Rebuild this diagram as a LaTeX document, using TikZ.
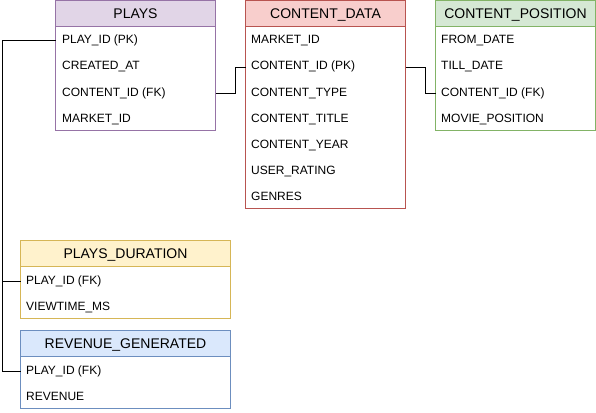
\documentclass[tikz,border=0pt]{standalone}
\usepackage{fontspec}
\setmainfont{Liberation Sans}
\usetikzlibrary{positioning}
\definecolor{playsfill}{HTML}{E1D5E7}\definecolor{playsline}{HTML}{9673A6}
\definecolor{datafill}{HTML}{F8CECC}\definecolor{dataline}{HTML}{B85450}
\definecolor{posfill}{HTML}{D5E8D4}\definecolor{posline}{HTML}{82B366}
\definecolor{durfill}{HTML}{FFF2CC}\definecolor{durline}{HTML}{D6B656}
\definecolor{revfill}{HTML}{DAE8FC}\definecolor{revline}{HTML}{6C8EBF}
\tikzset{
  tblhead/.style={anchor=north west, minimum height=26pt, inner sep=0pt, outer sep=0pt,
    text height=13pt, text depth=3pt, line width=1pt, font=\fontsize{14}{16}\selectfont},
  tblbody/.style={inner sep=0pt, outer sep=0pt, line width=1pt, fill=white},
  field/.style={anchor=west, inner sep=0pt, text height=9pt, text depth=3pt,
    font=\fontsize{12}{14}\selectfont},
  link/.style={draw=black, line width=1pt}
}

\begin{document}
\begin{tikzpicture}[x=1pt, y=1pt]
    \useasboundingbox (0,0) rectangle (596,-412);

    % tables
    \node (plays) [tblhead, draw=playsline, fill=playsfill, minimum width=160pt] at (55.5,-0.5) {PLAYS};
    \node (playsbody) [tblbody, draw=playsline, below=0pt of plays, minimum width=160pt, minimum height=104pt] {};
    \foreach \f [count=\i] in {PLAY\_ID (PK), CREATED\_AT, CONTENT\_ID (FK), MARKET\_ID}
        \node (plays-\i) [field] at ([xshift=6.5pt, yshift={(0.5-\i)*26pt-1.5pt}]playsbody.north west) {\f};

    \node (data) [tblhead, draw=dataline, fill=datafill, minimum width=160pt] at (245.5,-0.5) {CONTENT\_DATA};
    \node (databody) [tblbody, draw=dataline, below=0pt of data, minimum width=160pt, minimum height=182pt] {};
    \foreach \f [count=\i] in {MARKET\_ID, CONTENT\_ID (PK), CONTENT\_TYPE, CONTENT\_TITLE, CONTENT\_YEAR, USER\_RATING, GENRES}
        \node (data-\i) [field] at ([xshift=5.5pt, yshift={(0.5-\i)*26pt-1.5pt}]databody.north west) {\f};

    \node (pos) [tblhead, draw=posline, fill=posfill, minimum width=160pt] at (435.5,-0.5) {CONTENT\_POSITION};
    \node (posbody) [tblbody, draw=posline, below=0pt of pos, minimum width=160pt, minimum height=104pt] {};
    \foreach \f [count=\i] in {FROM\_DATE, TILL\_DATE, CONTENT\_ID (FK), MOVIE\_POSITION}
        \node (pos-\i) [field] at ([xshift=5.5pt, yshift={(0.5-\i)*26pt-1.5pt}]posbody.north west) {\f};

    \node (dur) [tblhead, draw=durline, fill=durfill, minimum width=210pt] at (20.5,-240.5) {PLAYS\_DURATION};
    \node (durbody) [tblbody, draw=durline, below=0pt of dur, minimum width=210pt, minimum height=52pt] {};
    \foreach \f [count=\i] in {PLAY\_ID (FK), VIEWTIME\_MS}
        \node (dur-\i) [field] at ([xshift=5.5pt, yshift={(0.5-\i)*26pt-1.5pt}]durbody.north west) {\f};

    \node (rev) [tblhead, draw=revline, fill=revfill, minimum width=210pt] at (20.5,-330.5) {REVENUE\_GENERATED};
    \node (revbody) [tblbody, draw=revline, below=0pt of rev, minimum width=210pt, minimum height=52pt] {};
    \foreach \f [count=\i] in {PLAY\_ID (FK), REVENUE}
        \node (rev-\i) [field] at ([xshift=5.5pt, yshift={(0.5-\i)*26pt-1.5pt}]revbody.north west) {\f};

    % relations
    \coordinate (bus) at (2,0);
    \draw[link] (playsbody.west |- plays-1) -- (bus |- plays-1) -- (bus |- rev-1) -- (revbody.west |- rev-1);
    \draw[link] (bus |- dur-1) -- (durbody.west |- dur-1);
    \draw[link] (playsbody.east |- plays-3) -- ++(20,0) |- (databody.west |- data-2);
    \draw[link] (databody.east |- data-2) -- ++(20,0) |- (posbody.west |- pos-3);
\end{tikzpicture}
\end{document}
